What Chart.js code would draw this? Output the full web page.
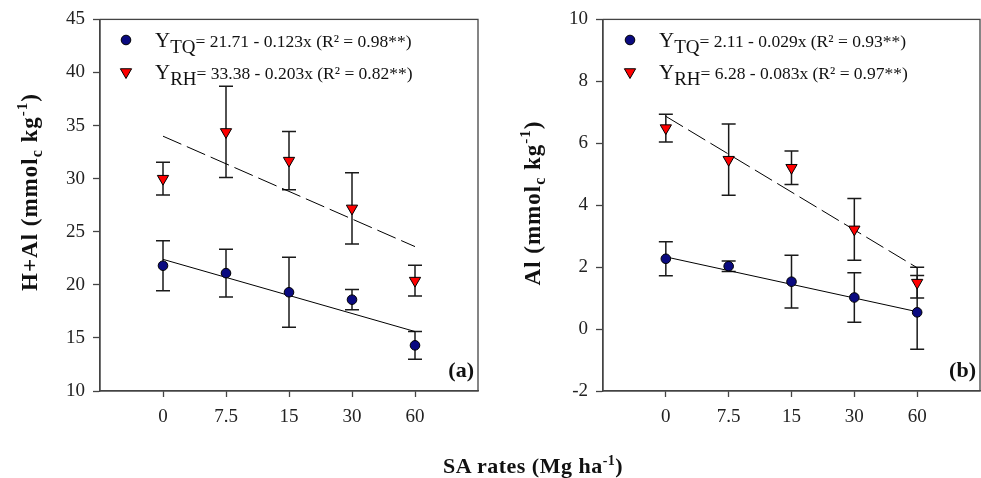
<!DOCTYPE html>
<html>
<head>
<meta charset="utf-8">
<script src="https://cdn.jsdelivr.net/npm/chart.js@4.4.0/dist/chart.umd.min.js"></script>
<style>
  body { margin: 0; background: #fff; }
  #wrap { position: relative; width: 981px; height: 478px; overflow: hidden; }
  #pa { position: absolute; left: 0; top: 0; }
  #pb { position: absolute; left: 490px; top: 0; }
  #xtitle { position: absolute; left: 443px; top: 455px; font: bold 22px "Liberation Serif"; letter-spacing: 0.5px; line-height: 21px; color: #111; white-space: nowrap; }
  #xtitle sup { font-size: 14px; line-height: 0; vertical-align: 8px; }
</style>
</head>
<body>
<div id="wrap">
  <canvas id="pa" width="490" height="478"></canvas>
  <canvas id="pb" width="499" height="478"></canvas>
  <div id="xtitle">SA rates (Mg ha<sup>-1</sup>)</div>
</div>
<script>
// SA application rates (Mg/ha), shown as evenly spaced categories
var rates = ['0', '7.5', '15', '30', '60'];
var slots = [1, 2, 3, 4, 5];

// (a) H+Al, mmolc/kg
var hal_tq = [21.8, 21.1, 19.3, 18.6, 14.3];
var hal_tq_err = [2.35, 2.25, 3.3, 0.95, 1.3];
var hal_rh = [30.0, 34.4, 31.7, 27.2, 20.4];
var hal_rh_err = [1.55, 4.3, 2.75, 3.35, 1.45];
var hal_tq_fit = [22.4, 15.6];
var hal_rh_fit = [34.0, 23.6];

// (b) Al, mmolc/kg
var al_tq = [2.27, 2.03, 1.53, 1.02, 0.54];
var al_tq_err = [0.55, 0.17, 0.85, 0.8, 1.19];
var al_rh = [6.49, 5.47, 5.21, 3.22, 1.5];
var al_rh_err = [0.45, 1.15, 0.54, 1.0, 0.5];
var al_tq_fit = [2.33, 0.56];
var al_rh_fit = [6.87, 1.98];

var SERIF = '"Liberation Serif", "DejaVu Serif", serif';
var NAVY = '#0a0a80';
var RED = '#ff0000';
var AXIS = '#444';

function points(vals){
  return vals.map(function(v, i){ return {x: slots[i], y: v}; });
}
function ends(fit){
  return [{x: slots[0], y: fit[0]}, {x: slots[slots.length - 1], y: fit[1]}];
}

// draws a row of text pieces (used for sub/superscripts)
function drawParts(ctx, parts, x, y){
  parts.forEach(function(p){
    ctx.font = p.font;
    ctx.fillText(p.text, x, y + (p.dy || 0));
    x += ctx.measureText(p.text).width;
  });
  return x;
}
function partsWidth(ctx, parts){
  var w = 0;
  parts.forEach(function(p){ ctx.font = p.font; w += ctx.measureText(p.text).width; });
  return w;
}

// vertical error bars with caps, drawn under the markers
var errorBars = {
  id: 'errorBars',
  beforeDatasetsDraw: function(chart){
    var ctx = chart.ctx, xs = chart.scales.x, ys = chart.scales.y;
    ctx.save();
    ctx.strokeStyle = '#1a1a1a';
    ctx.lineWidth = 1.5;
    chart.data.datasets.forEach(function(ds){
      if (!ds.errors) return;
      ds.data.forEach(function(p, i){
        var x = xs.getPixelForValue(p.x);
        var top = ys.getPixelForValue(p.y + ds.errors[i]);
        var bot = ys.getPixelForValue(p.y - ds.errors[i]);
        ctx.beginPath();
        ctx.moveTo(x, top); ctx.lineTo(x, bot);
        ctx.moveTo(x - 7, top); ctx.lineTo(x + 7, top);
        ctx.moveTo(x - 7, bot); ctx.lineTo(x + 7, bot);
        ctx.stroke();
      });
    });
    ctx.restore();
  }
};

// frame, legend with equations, axis title and panel letter
var decor = {
  id: 'decor',
  afterDraw: function(chart, args, opts){
    var ctx = chart.ctx, a = chart.chartArea;
    ctx.save();
    ctx.strokeStyle = AXIS;
    ctx.lineWidth = 1.3;
    ctx.strokeRect(a.left, a.top, a.right - a.left, a.bottom - a.top);

    ctx.fillStyle = '#111';
    ctx.textAlign = 'left';
    ctx.textBaseline = 'alphabetic';
    opts.legend.forEach(function(row, i){
      var my = 40 + i * 32;
      ctx.fillStyle = row.color;
      ctx.strokeStyle = '#000';
      ctx.lineWidth = 1;
      Chart.helpers.drawPoint(ctx, {pointStyle: row.style, radius: row.radius, rotation: row.rotation, borderWidth: 1}, opts.legendX, my);
      ctx.fillStyle = '#111';
      drawParts(ctx, [
        {text: 'Y', font: '21px ' + SERIF},
        {text: row.sub, font: '19px ' + SERIF, dy: 6},
        {text: row.eq, font: '17.5px ' + SERIF}
      ], opts.legendX + 29, my + 7);
    });

    // rotated y title
    ctx.letterSpacing = '1px';
    var w = partsWidth(ctx, opts.title);
    ctx.translate(opts.titleX, opts.titleY);
    ctx.rotate(-Math.PI / 2);
    drawParts(ctx, opts.title, -w / 2, 0);
    ctx.setTransform(1, 0, 0, 1, 0, 0);
    ctx.letterSpacing = '0px';

    ctx.font = 'bold 22px ' + SERIF;
    ctx.textAlign = 'right';
    ctx.fillText(opts.tag, a.right - 4, 377);
    ctx.restore();
  }
};

function yTitle(name){
  var b = 'bold 23px ' + SERIF;
  return [
    {text: name + ' (mmol', font: b},
    {text: 'c', font: 'bold 16px ' + SERIF, dy: 5},
    {text: ' kg', font: b},
    {text: '-1', font: 'bold 15px ' + SERIF, dy: -10},
    {text: ')', font: b}
  ];
}

function makePanel(id, cfg){
  return new Chart(document.getElementById(id), {
    type: 'scatter',
    data: {
      datasets: [
        {data: points(cfg.tq), errors: cfg.tqErr, backgroundColor: NAVY, borderColor: '#000', borderWidth: 1,
         pointStyle: 'circle', pointRadius: 4.8},
        {data: points(cfg.rh), errors: cfg.rhErr, backgroundColor: RED, borderColor: '#000', borderWidth: 1,
         pointStyle: 'triangle', pointRotation: 180, pointRadius: 6.5},
        {data: ends(cfg.tqFit), showLine: true, borderColor: '#000', borderWidth: 1, pointRadius: 0},
        {data: ends(cfg.rhFit), showLine: true, borderColor: '#000', borderWidth: 1, borderDash: [20, 6], pointRadius: 0}
      ]
    },
    options: {
      responsive: false,
      animation: false,
      layout: {padding: {top: 19, right: cfg.padRight, left: 0, bottom: 0}},
      plugins: {
        legend: {display: false},
        tooltip: {enabled: false},
        decor: {
          legend: [
            {style: 'circle', radius: 4.8, rotation: 0, color: NAVY, sub: 'TQ', eq: cfg.eqTq},
            {style: 'triangle', radius: 6.5, rotation: 180, color: RED, sub: 'RH', eq: cfg.eqRh}
          ],
          legendX: cfg.legendX,
          title: yTitle(cfg.name),
          titleX: cfg.titleX,
          titleY: cfg.titleY,
          tag: cfg.tag
        }
      },
      scales: {
        x: {
          type: 'linear', min: 0, max: 6,
          afterBuildTicks: function(s){ s.ticks = slots.map(function(v){ return {value: v}; }); },
          afterFit: function(s){ s.height = 87; },
          ticks: {
            callback: function(v){ return rates[v - 1]; },
            font: {family: SERIF, size: 19}, color: '#222', padding: 9, maxRotation: 0
          },
          grid: {drawOnChartArea: false, tickLength: 6, tickColor: AXIS, tickWidth: 1.3},
          border: {color: AXIS, width: 1.3}
        },
        y: {
          min: cfg.yMin, max: cfg.yMax,
          afterFit: function(s){ s.width = cfg.axisWidth; },
          ticks: {stepSize: cfg.step, font: {family: SERIF, size: 19}, color: '#222', padding: 8},
          grid: {drawOnChartArea: false, tickLength: 7, tickColor: AXIS, tickWidth: 1.3},
          border: {color: AXIS, width: 1.3}
        }
      }
    },
    plugins: [errorBars, decor]
  });
}

makePanel('pa', {
  tq: hal_tq, tqErr: hal_tq_err, rh: hal_rh, rhErr: hal_rh_err,
  tqFit: hal_tq_fit, rhFit: hal_rh_fit,
  yMin: 10, yMax: 45, step: 5, axisWidth: 100, padRight: 12,
  eqTq: '= 21.71 - 0.123x (R\u00b2 = 0.98**)',
  eqRh: '= 33.38 - 0.203x (R\u00b2 = 0.82**)',
  legendX: 126, name: 'H+Al', titleX: 37, titleY: 192, tag: '(a)'
});

makePanel('pb', {
  tq: al_tq, tqErr: al_tq_err, rh: al_rh, rhErr: al_rh_err,
  tqFit: al_tq_fit, rhFit: al_rh_fit,
  yMin: -2, yMax: 10, step: 2, axisWidth: 113, padRight: 9,
  eqTq: '= 2.11 - 0.029x (R\u00b2 = 0.93**)',
  eqRh: '= 6.28 - 0.083x (R\u00b2 = 0.97**)',
  legendX: 140, name: 'Al', titleX: 50, titleY: 203, tag: '(b)'
});
</script>
</body>
</html>
